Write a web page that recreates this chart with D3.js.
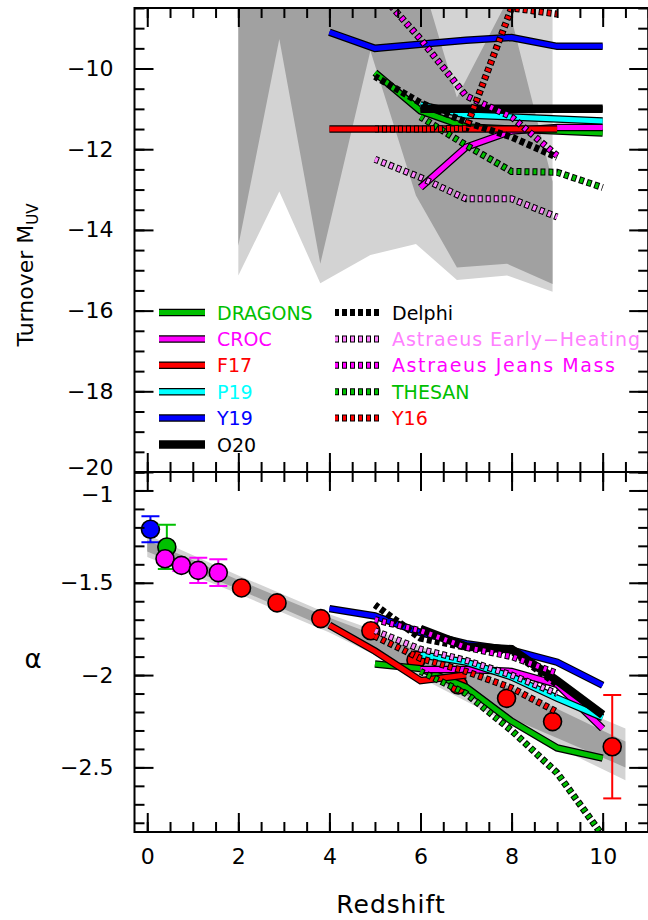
<!DOCTYPE html>
<html>
<head>
<meta charset="utf-8">
<script src="https://cdn.jsdelivr.net/npm/d3@7"></script>
<style>
  body { margin: 0; background: #fff; }
  svg { display: block; }
</style>
</head>
<body>
<svg id="chart" width="648" height="920"></svg>
<script>
// ---------------- Turnover magnitude (upper panel) ----------------
const dragonsZ = [5, 6, 7, 8, 9, 10];
const dragonsM = [-10.1, -11.05, -11.45, -11.5, -11.55, -11.6];
const crocZ = [6, 7, 8, 9, 10];
const crocM = [-12.95, -11.95, -11.55, -11.46, -11.46];
const f17Z = [4, 5, 6, 7, 8, 9];
const f17M = [-11.5, -11.5, -11.5, -11.5, -11.5, -11.5];
const p19Z = [6, 7, 8, 9, 10];
const p19M = [-10.9, -11.15, -11.2, -11.25, -11.3];
const y19Z = [4, 5, 6, 7, 8, 9, 10];
const y19M = [-9.1, -9.5, -9.4, -9.3, -9.23, -9.45, -9.45];
const o20Z = [6, 7, 8, 9, 10];
const o20M = [-11.0, -11.0, -11.0, -11.0, -11.0];
const delphiZ = [5, 6, 7, 8, 9];
const delphiM = [-10.2, -10.85, -11.33, -11.7, -12.2];
const astEarlyZ = [5, 6, 7, 8, 9];
const astEarlyM = [-12.25, -12.7, -13.23, -13.23, -13.68];
const astJeansZ = [5, 6, 7, 8, 9];
const astJeansM = [-8.0, -9.27, -10.68, -11.2, -12.16];
const thesanZ = [6, 7, 8, 9, 10];
const thesanM = [-11.2, -11.9, -12.55, -12.57, -12.95];
const y16Z = [5, 6, 7, 8, 9];
const y16M = [-11.5, -11.5, -11.48, -8.5, -8.65];

// observational turnover constraints (shaded regions)
const shadeZ = [2.0, 2.9, 3.8, 4.9, 5.9, 6.8, 7.9, 8.9];
const outerLow = [-15.13, -13.05, -15.32, -14.62, -14.35, -15.24, -15.13, -15.53];
const outerHigh = [-7, -7, -7, -7, -7, -7, -7, -7];
const innerLow = [-14.39, -9.27, -14.84, -9.56, -13.15, -14.93, -14.84, -15.34];
const innerHigh = [-7, -7, -7, -7, -7.3, -10.72, -8.33, -12.8];

// ---------------- Faint-end slope (lower panel) ----------------
const dragonsAZ = [5, 6, 7, 8, 9, 10];
const dragonsA = [-1.94, -1.965, -2.065, -2.25, -2.395, -2.45];
const crocAZ = [6, 7, 8, 9, 10];
const crocA = [-1.97, -1.97, -1.98, -2.05, -2.29];
const f17AZ = [4, 5, 6, 7];
const f17A = [-1.73, -1.87, -2.03, -2.0];
const p19AZ = [6, 7, 8, 9, 10];
const p19A = [-1.89, -1.93, -2.01, -2.125, -2.23];
const y19AZ = [4, 5, 6, 7, 8, 9, 10];
const y19A = [-1.64, -1.68, -1.77, -1.83, -1.865, -1.93, -2.055];
const o20AZ = [6, 7, 8, 9, 10];
const o20A = [-1.75, -1.845, -1.86, -2.03, -2.215];
const delphiAZ = [5, 6, 7, 8, 9];
const delphiA = [-1.62, -1.80, -1.85, -1.87, -2.05];
const astEarlyAZ = [5, 6, 7, 8, 9];
const astEarlyA = [-1.76, -1.86, -1.92, -2.0, -2.1];
const astJeansAZ = [5, 6, 7, 8, 9];
const astJeansA = [-1.70, -1.76, -1.85, -1.90, -1.99];
const thesanAZ = [6, 7, 8, 9, 10];
const thesanA = [-1.98, -2.1, -2.3, -2.53, -2.87];
const y16AZ = [5, 6, 7, 8, 9];
const y16A = [-1.79, -1.91, -1.98, -2.07, -2.2];

// fitted evolution of alpha with its 1- and 2-sigma envelopes
const bandZ = [0, 2, 4, 6, 8, 10.5];
const bandMid = [-1.30, -1.51, -1.72, -1.93, -2.15, -2.43];
const bandInner = [0.03, 0.025, 0.03, 0.055, 0.085, 0.07];
const bandOuter = [0.06, 0.05, 0.05, 0.085, 0.12, 0.14];

// measured faint-end slopes
const blueZ = [0.07], blueA = [-1.21], blueErr = [0.07];
const greenZ = [0.43], greenA = [-1.306], greenErr = [0.12];
const pinkZ = [0.39, 0.75, 1.12, 1.56], pinkA = [-1.37, -1.406, -1.433, -1.445], pinkErr = [0.0, 0.03, 0.068, 0.072];
const redZ = [2.07, 2.85, 3.81, 4.91, 5.9, 6.83, 7.89, 8.9, 10.21];
const redA = [-1.528, -1.609, -1.694, -1.76, -1.919, -2.054, -2.126, -2.252, -2.388];
const redErr = [0, 0, 0, 0, 0, 0, 0, 0, 0.28];

// axis ticks
const xMajor = [0, 2, 4, 6, 8, 10];
const xMinor = d3.range(0, 11.01, 0.5);
const muvMajor = [-20, -18, -16, -14, -12, -10];
const muvMinor = d3.range(-20, -8.49, 0.5);
const alphaMajor = [-2.5, -2, -1.5, -1];
const alphaMinor = d3.range(-2.8, -0.89, 0.1).map(v => +v.toFixed(2));

// ---------------- colours and styles ----------------
const GREEN = "#00c000", MAGENTA = "#ff00ff", RED = "#ff0000", CYAN = "#00ffff",
      BLUE = "#0000ff", BLACK = "#000000", VIOLET = "#ff80ff";

const FONT = "DejaVu Sans";

const svg = d3.select("#chart");

const x = d3.scaleLinear().domain([-0.28, 11]).range([134.5, 648.2]);
const yTop = d3.scaleLinear().domain([-20, -8.5]).range([472, 8]);
const yBot = d3.scaleLinear().domain([-2.85, -0.9]).range([832, 472]);

const L = x.range()[0], R = x.range()[1];
const defs = svg.append("defs");
defs.append("clipPath").attr("id", "clipTop")
  .append("rect").attr("x", L).attr("y", yTop.range()[1]).attr("width", R - L).attr("height", yTop.range()[0] - yTop.range()[1]);
defs.append("clipPath").attr("id", "clipBot")
  .append("rect").attr("x", L).attr("y", yBot.range()[1]).attr("width", R - L).attr("height", yBot.range()[0] - yBot.range()[1]);

// draw one curve: thick coloured stroke with a thin black rim, solid or dotted
function curve(g, zs, vs, yScale, color, dotted, width) {
  const pts = zs.map((z, i) => [x(z), yScale(vs[i])]);
  const line = d3.line();
  const w = width || 5;
  if (dotted) {
    g.append("path").attr("d", line(pts)).attr("fill", "none")
      .attr("stroke", "#000").attr("stroke-width", w + 2)
      .attr("stroke-dasharray", "5 3").attr("stroke-dashoffset", 1);
    g.append("path").attr("d", line(pts)).attr("fill", "none")
      .attr("stroke", color).attr("stroke-width", w)
      .attr("stroke-dasharray", "3 5");
  } else {
    g.append("path").attr("d", line(pts)).attr("fill", "none")
      .attr("stroke", "#000").attr("stroke-width", w + 2.5).attr("stroke-linejoin", "miter");
    g.append("path").attr("d", line(pts)).attr("fill", "none")
      .attr("stroke", color).attr("stroke-width", w).attr("stroke-linejoin", "miter");
  }
}

// ---------------- upper panel ----------------
const gTop = svg.append("g").attr("clip-path", "url(#clipTop)");

const shadeArea = (lo, hi) => d3.area()
  .x((d, i) => x(shadeZ[i]))
  .y0((d, i) => yTop(lo[i]))
  .y1((d, i) => yTop(hi[i]));

gTop.append("path").attr("d", shadeArea(outerLow, outerHigh)(shadeZ)).attr("fill", "#d3d3d3");
gTop.append("path").attr("d", shadeArea(innerLow, innerHigh)(shadeZ)).attr("fill", "#a1a1a1");

const topSeries = [
  [dragonsZ, dragonsM, GREEN, false],
  [crocZ, crocM, MAGENTA, false],
  [f17Z, f17M, RED, false],
  [p19Z, p19M, CYAN, false],
  [y19Z, y19M, BLUE, false],
  [o20Z, o20M, BLACK, false, 6],
  [delphiZ, delphiM, BLACK, true],
  [astEarlyZ, astEarlyM, VIOLET, true],
  [astJeansZ, astJeansM, MAGENTA, true],
  [thesanZ, thesanM, GREEN, true],
  [y16Z, y16M, RED, true]
];
topSeries.forEach(s => curve(gTop, s[0], s[1], yTop, s[2], s[3], s[4]));

// legend
const legendLeft = [
  ["DRAGONS", GREEN, false], ["CROC", MAGENTA, false], ["F17", RED, false],
  ["P19", CYAN, false], ["Y19", BLUE, false], ["O20", BLACK, false, 6]
];
const legendRight = [
  ["Delphi", BLACK, true], ["Astraeus Early\u2212Heating", VIOLET, true, null, 248],
  ["Astraeus Jeans Mass", MAGENTA, true, null, 223], ["THESAN", GREEN, true], ["Y16", RED, true]
];
const gLeg = svg.append("g");
function legendColumn(items, x0, x1, tx) {
  items.forEach((it, i) => {
    const yy = 312.5 + i * 26.4;
    const pts = [[x0, yy], [x1, yy]];
    const w = it[3] || 5;
    if (it[2]) {
      gLeg.append("path").attr("d", d3.line()(pts)).attr("stroke", "#000").attr("stroke-width", w + 2)
        .attr("stroke-dasharray", "5 3").attr("stroke-dashoffset", 1);
      gLeg.append("path").attr("d", d3.line()(pts)).attr("stroke", it[1]).attr("stroke-width", w)
        .attr("stroke-dasharray", "3 5");
    } else {
      gLeg.append("path").attr("d", d3.line()(pts)).attr("stroke", "#000").attr("stroke-width", w + 2.5);
      gLeg.append("path").attr("d", d3.line()(pts)).attr("stroke", it[1]).attr("stroke-width", w);
    }
    const t = gLeg.append("text").attr("x", tx).attr("y", yy + 7)
      .attr("font-family", FONT).attr("font-size", 19).attr("fill", it[1]).text(it[0]);
    if (it[4]) t.attr("textLength", it[4]).attr("lengthAdjust", "spacing");
  });
}
legendColumn(legendLeft, 159, 205, 217);
legendColumn(legendRight, 335, 381, 392);

// ---------------- lower panel ----------------
const gBot = svg.append("g").attr("clip-path", "url(#clipBot)");

const bandArea = (half) => d3.area()
  .x((d, i) => x(bandZ[i]))
  .y0((d, i) => yBot(bandMid[i] - half[i]))
  .y1((d, i) => yBot(bandMid[i] + half[i]));
gBot.append("path").attr("d", bandArea(bandOuter)(bandZ)).attr("fill", "#d3d3d3");
gBot.append("path").attr("d", bandArea(bandInner)(bandZ)).attr("fill", "#a1a1a1");

function points(zs, as, errs, color) {
  zs.forEach((z, i) => {
    if (errs[i] > 0) {
      const cx = x(z), yUp = yBot(as[i] + errs[i]), yDn = yBot(as[i] - errs[i]);
      gBot.append("line").attr("x1", cx).attr("x2", cx).attr("y1", yUp).attr("y2", yDn)
        .attr("stroke", color).attr("stroke-width", 2);
      [yUp, yDn].forEach(yy => gBot.append("line").attr("x1", cx - 9).attr("x2", cx + 9)
        .attr("y1", yy).attr("y2", yy).attr("stroke", color).attr("stroke-width", 2));
    }
  });
  zs.forEach((z, i) => {
    gBot.append("circle").attr("cx", x(z)).attr("cy", yBot(as[i])).attr("r", 9)
      .attr("fill", color).attr("stroke", "#000").attr("stroke-width", 1.6);
  });
}
points(blueZ, blueA, blueErr, BLUE);
points(greenZ, greenA, greenErr, GREEN);
points(pinkZ, pinkA, pinkErr, MAGENTA);
points(redZ, redA, redErr, RED);

const botSeries = [
  [dragonsAZ, dragonsA, GREEN, false],
  [crocAZ, crocA, MAGENTA, false],
  [f17AZ, f17A, RED, false],
  [p19AZ, p19A, CYAN, false],
  [y19AZ, y19A, BLUE, false],
  [o20AZ, o20A, BLACK, false, 6],
  [delphiAZ, delphiA, BLACK, true],
  [astEarlyAZ, astEarlyA, VIOLET, true],
  [astJeansAZ, astJeansA, MAGENTA, true],
  [thesanAZ, thesanA, GREEN, true],
  [y16AZ, y16A, RED, true]
];
botSeries.forEach(s => curve(gBot, s[0], s[1], yBot, s[2], s[3], s[4]));

// ---------------- frames and axes ----------------
const fmt = d3.format("~g");
function styleAxis(g) {
  g.select(".domain").remove();
  g.selectAll(".tick line").attr("stroke", "#000").attr("stroke-width", 2);
  g.attr("font-family", FONT).attr("font-size", 22);
  g.selectAll(".tick text").attr("fill", "#000");
  return g;
}
function axisPair(axisFn, scale, major, minor, transform, labels, pad) {
  const g1 = svg.append("g").attr("transform", transform)
    .call(axisFn(scale).tickValues(minor).tickSize(-10).tickFormat(""));
  styleAxis(g1);
  const g2 = svg.append("g").attr("transform", transform)
    .call(axisFn(scale).tickValues(major).tickSize(-19).tickPadding(pad || 3)
      .tickFormat(labels ? fmt : ""));
  styleAxis(g2);
  return g2;
}

// upper panel axes; the lowest label is nudged up to clear the panel below
const muvAxis = axisPair(d3.axisLeft, yTop, muvMajor, muvMinor, `translate(${L},0)`, true, 21);
muvAxis.selectAll(".tick text").filter(d => d === -20).attr("dy", "0.12em");
axisPair(d3.axisRight, yTop, muvMajor, muvMinor, `translate(${R},0)`, false);
axisPair(d3.axisTop, x, xMajor, xMinor, `translate(0,${yTop.range()[1]})`, false);
axisPair(d3.axisBottom, x, xMajor, xMinor, `translate(0,${yTop.range()[0]})`, false);

// lower panel axes; the topmost label is nudged down
const alphaAxis = axisPair(d3.axisLeft, yBot, alphaMajor, alphaMinor, `translate(${L},0)`, true, 21);
alphaAxis.selectAll(".tick text").filter(d => d === -1).attr("dy", "0.5em");
axisPair(d3.axisRight, yBot, alphaMajor, alphaMinor, `translate(${R},0)`, false);
axisPair(d3.axisTop, x, xMajor, xMinor, `translate(0,${yBot.range()[1]})`, false);
axisPair(d3.axisBottom, x, xMajor, xMinor, `translate(0,${yBot.range()[0]})`, true, 16);

svg.append("rect").attr("x", L).attr("y", yTop.range()[1])
  .attr("width", R - L).attr("height", yBot.range()[0] - yTop.range()[1])
  .attr("fill", "none").attr("stroke", "#000").attr("stroke-width", 2);
svg.append("line").attr("x1", L).attr("x2", R).attr("y1", yBot.range()[1]).attr("y2", yBot.range()[1])
  .attr("stroke", "#000").attr("stroke-width", 2);

// axis titles
const yt = svg.append("text").attr("transform", "translate(33,275) rotate(-90)")
  .attr("text-anchor", "middle").attr("font-family", FONT).attr("font-size", 22).attr("fill", "#000");
yt.append("tspan").text("Turnover M");
yt.append("tspan").attr("font-size", 15).attr("dy", 5).text("UV");

svg.append("text").attr("x", 33).attr("y", 668).attr("text-anchor", "middle")
  .attr("font-family", FONT).attr("font-size", 26).attr("fill", "#000").text("\u03b1");

svg.append("text").attr("x", 391).attr("y", 913).attr("text-anchor", "middle")
  .attr("font-family", FONT).attr("font-size", 25).attr("letter-spacing", 1).attr("fill", "#000").text("Redshift");
</script>
</body>
</html>
